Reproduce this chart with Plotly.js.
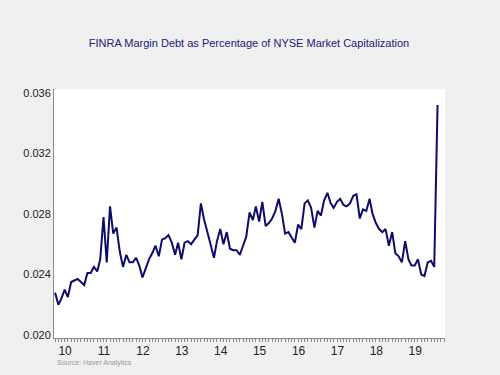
<!DOCTYPE html>
<html>
<head>
<meta charset="utf-8">
<script src="https://cdn.plot.ly/plotly-3.0.1.min.js"></script>
<style>html,body{margin:0;padding:0;background:#f0f0f0;}#chart{width:500px;height:375px;}</style>
</head>
<body>
<div id="chart"></div>
<script>
// Monthly series, starting January 2010
var startYear = 2010;
var startMonth = 1;
var marginDebtPct = [
  0.0228, 0.0220, 0.0224, 0.0230, 0.0225, 0.0235, 0.0236, 0.0237, 0.0235, 0.0233,
  0.0241, 0.0241, 0.0245, 0.0242, 0.0250, 0.0278, 0.0248, 0.0285, 0.0267, 0.0271,
  0.0255, 0.0245, 0.0253, 0.0248, 0.0248, 0.0251, 0.0246, 0.0238, 0.0244, 0.0250,
  0.0254, 0.0259, 0.0252, 0.0263, 0.0264, 0.0266, 0.0261, 0.0253, 0.0261, 0.0250,
  0.0261, 0.0262, 0.0260, 0.0263, 0.0266, 0.0287, 0.0276, 0.0268, 0.0260, 0.0251,
  0.0262, 0.0270, 0.0260, 0.0268, 0.0257, 0.0256, 0.0256, 0.0253, 0.0259, 0.0265,
  0.0281, 0.0276, 0.0285, 0.0275, 0.0288, 0.0272, 0.0274, 0.0277, 0.0282, 0.0290,
  0.0280, 0.0267, 0.0268, 0.0264, 0.0261, 0.0273, 0.0270, 0.0287, 0.0289, 0.0284,
  0.0271, 0.0282, 0.0279, 0.0289, 0.0294, 0.0287, 0.0284, 0.0288, 0.0290, 0.0286,
  0.0285, 0.0287, 0.0292, 0.0293, 0.0277, 0.0283, 0.0282, 0.0290, 0.0280, 0.0274,
  0.0270, 0.0268, 0.0270, 0.0259, 0.0268, 0.0254, 0.0252, 0.0248, 0.0262, 0.0250,
  0.0246, 0.0246, 0.0250, 0.0240, 0.0239, 0.0248, 0.0249, 0.0245, 0.0352
];
var yearLabels = ['10','11','12','13','14','15','16','17','18','19'];
var labelYears = [2010,2011,2012,2013,2014,2015,2016,2017,2018,2019];
var yTicks = [0.020, 0.024, 0.028, 0.032, 0.036];

function pad(n){return (n<10?'0':'')+n;}
var dates = [];
for (var i = 0; i < marginDebtPct.length; i++) {
  var m = startMonth - 1 + i;
  var y = startYear + Math.floor(m / 12);
  dates.push(y + '-' + pad(m % 12 + 1) + '-01');
}
var labelPos = labelYears.map(function(y){return y + '-04-05';});

var trace = {
  x: dates, y: marginDebtPct, type: 'scatter', mode: 'lines',
  line: {color: '#0c0c6a', width: 2}, hoverinfo: 'skip'
};

var layout = {
  width: 500, height: 375,
  paper_bgcolor: '#f0f0f0', plot_bgcolor: '#ffffff',
  margin: {l: 54, r: 55, t: 89, b: 37},
  showlegend: false,
  title: {
    text: 'FINRA Margin Debt as Percentage of NYSE Market Capitalization',
    xref: 'container', x: 0.498, yref: 'container', y: 1 - 43/375, yanchor: 'middle', xanchor: 'center',
    font: {family: 'Liberation Sans, Arial, sans-serif', size: 11, color: '#20207a'}
  },
  xaxis: {
    type: 'date',
    range: ['2009-12-22', '2020-01-10'],
    tickmode: 'array', tickvals: labelPos, ticktext: yearLabels,
    ticks: '', ticklabelstandoff: 2,
    tickfont: {family: 'Liberation Sans, Arial, sans-serif', size: 12, color: '#222222'},
    showline: true, linecolor: '#8a8a8a', linewidth: 1,
    showgrid: false, zeroline: false,
    minor: {tickmode: 'linear', tick0: '2010-01-01', dtick: 'M1', ticks: 'outside', ticklen: 3, tickcolor: '#8a8a8a', showgrid: false}
  },
  yaxis: {
    range: [0.0198, 0.03626],
    tickmode: 'array', tickvals: yTicks, tickformat: '.3f',
    ticks: '',
    tickfont: {family: 'Liberation Sans, Arial, sans-serif', size: 11, color: '#222222'},
    showline: true, linecolor: '#8a8a8a', linewidth: 1,
    showgrid: false, zeroline: false
  },
  annotations: [{
    text: 'Source: Haver Analytics', xref: 'paper', yref: 'paper',
    x: 0.003, y: -0.1, xanchor: 'left', yanchor: 'middle', showarrow: false,
    font: {family: 'Liberation Sans, Arial, sans-serif', size: 7, color: '#999999'}
  }]
};

Plotly.newPlot('chart', [trace], layout, {displayModeBar: false, staticPlot: true});
</script>
</body>
</html>
